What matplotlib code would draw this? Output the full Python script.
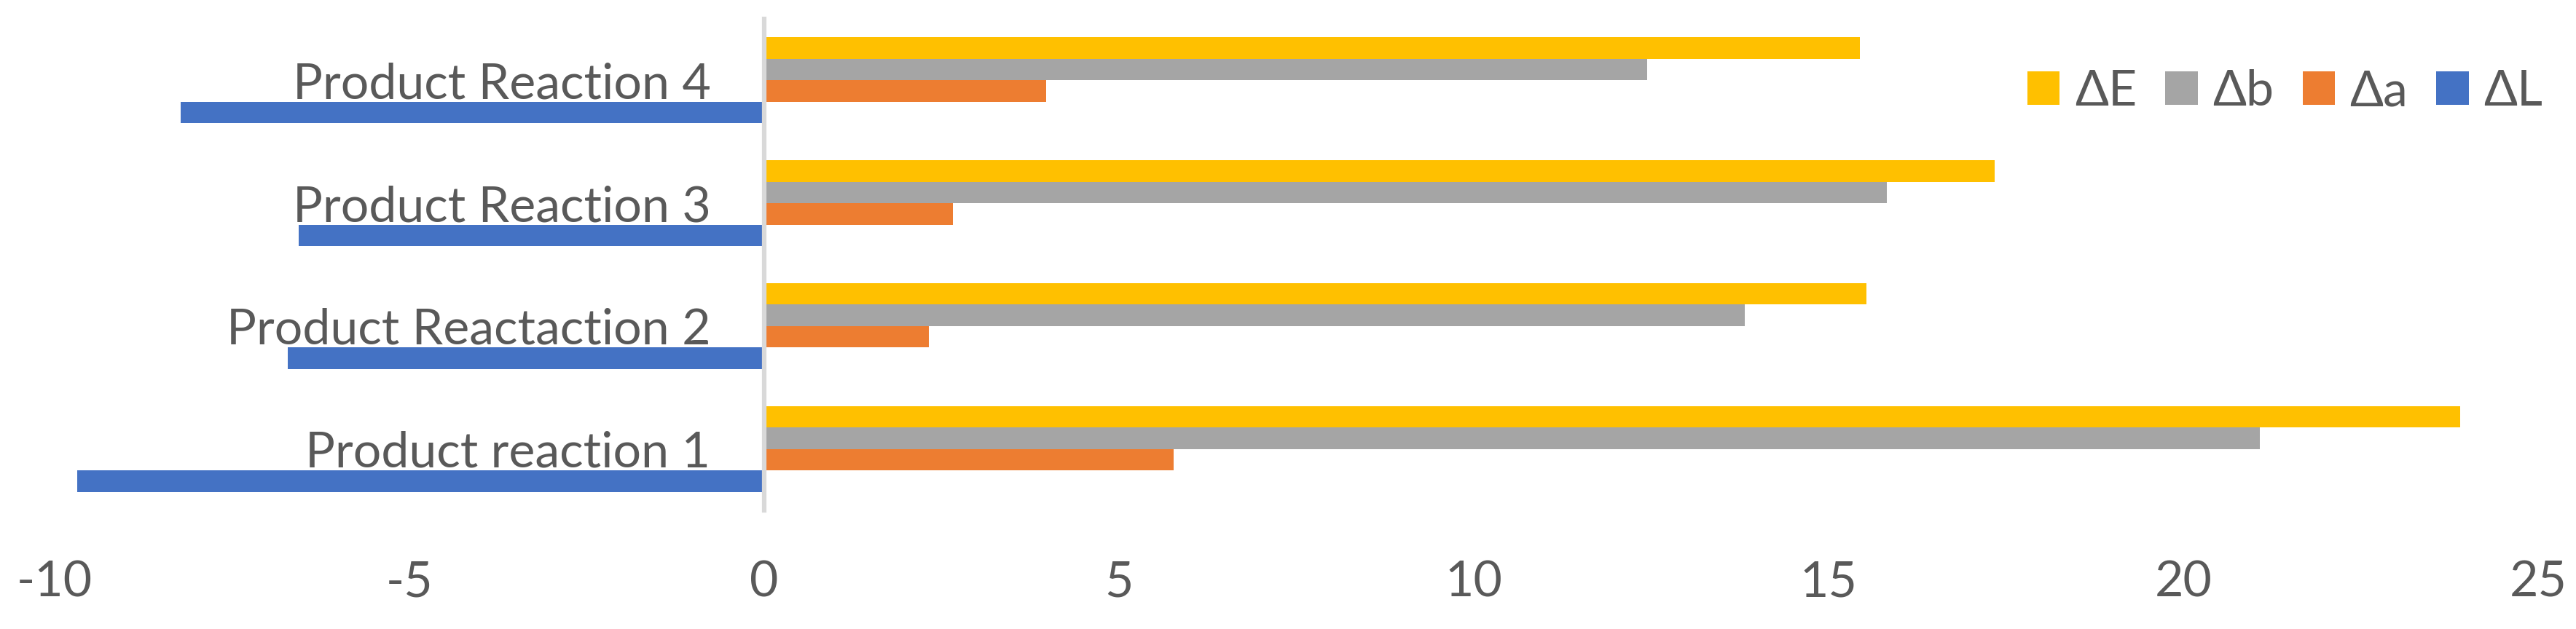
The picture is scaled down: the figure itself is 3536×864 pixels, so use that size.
import numpy as np
import matplotlib.pyplot as plt

plt.rcParams['font.family'] = ['Lato', 'DejaVu Sans']
plt.rcParams['axes.unicode_minus'] = False

categories = ["Product reaction 1", "Product Reactaction 2", "Product Reaction 3", "Product Reaction 4"]
delta_L = [-9.68, -6.71, -6.56, -8.22]
delta_a = [5.77, 2.32, 2.66, 3.97]
delta_b = [21.08, 13.82, 15.82, 12.44]
delta_E = [23.90, 15.53, 17.34, 15.44]

series_names = ["ΔL", "Δa", "Δb", "ΔE"]
series_colors = ["#4472C4", "#ED7D31", "#A5A5A5", "#FFC000"]
text_color = "#595959"
fsize = 49

W, H = 3536, 864
fig = plt.figure(figsize=(W / 100, H / 100), dpi=100)
ax = fig.add_axes([75 / W, 1 - 701 / H, (3484 - 75) / W, (701 - 26) / H])

y = np.arange(len(categories))
h = 0.175
for i, (vals, name, col) in enumerate(zip([delta_L, delta_a, delta_b, delta_E], series_names, series_colors)):
    ax.barh(y + (i - 1.5) * h, vals, height=h, color=col, label=name, zorder=1)

ax.set_xlim(-10, 25)
ax.set_ylim(-0.5, 3.5)
ax.set_xticks(range(-10, 26, 5))

for s in ['top', 'right', 'bottom']:
    ax.spines[s].set_visible(False)
ax.spines['left'].set_position(('data', 0))
ax.spines['left'].set_color('#D9D9D9')
ax.spines['left'].set_linewidth(4.5)

ax.set_yticks(y, categories)
ax.tick_params(axis='y', length=0, pad=53, labelsize=fsize, labelcolor=text_color)
ax.tick_params(axis='x', length=0, pad=49, labelsize=fsize, labelcolor=text_color)

handles, labels = ax.get_legend_handles_labels()
ax.legend(handles[::-1], labels[::-1], ncol=4, loc='center right',
          bbox_to_anchor=(3490 / W, 1 - 126 / H), bbox_transform=fig.transFigure,
          frameon=False, fontsize=fsize, labelcolor=text_color,
          handlelength=0.65, handleheight=0.65, handletextpad=0.3,
          columnspacing=0.58, borderpad=0, borderaxespad=0)

fig.savefig("out.png", dpi=100)
